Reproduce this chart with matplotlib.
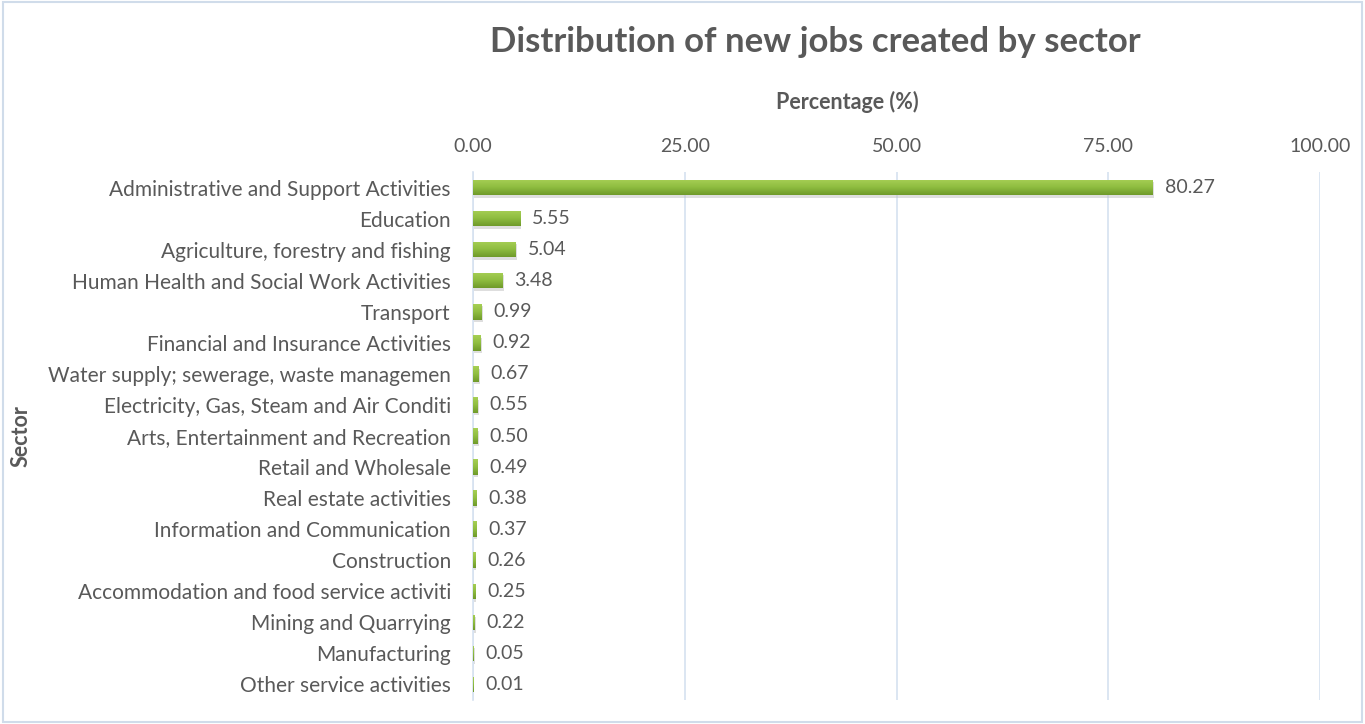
import numpy as np
import matplotlib
matplotlib.use('Agg')
from matplotlib import pyplot as plt
from matplotlib.patches import Rectangle

sectors = [
    'Administrative and Support Activities',
    'Education',
    'Agriculture, forestry and fishing',
    'Human Health and Social Work Activities',
    'Transport',
    'Financial and Insurance Activities',
    'Water supply; sewerage, waste managemen',
    'Electricity, Gas, Steam and Air Conditi',
    'Arts, Entertainment and Recreation',
    'Retail and Wholesale',
    'Real estate activities',
    'Information and Communication',
    'Construction',
    'Accommodation and food service activiti',
    'Mining and Quarrying',
    'Manufacturing',
    'Other service activities',
]
share = [80.27, 5.55, 5.04, 3.48, 0.99, 0.92, 0.67, 0.55, 0.50,
         0.49, 0.38, 0.37, 0.26, 0.25, 0.22, 0.05, 0.01]
x_ticks = [0, 25, 50, 75, 100]

plt.rcParams['font.family'] = ['Lato', 'DejaVu Sans']
text_col = '#595959'
grid_col = '#D6E2F0'

fig = plt.figure(figsize=(13.65, 7.24), dpi=100)
ax = fig.add_axes([473 / 1365, 1 - 700 / 724, (1320 - 473) / 1365, (700 - 172) / 724])

y = np.arange(len(sectors))
bars = ax.barh(y, share, height=0.5, color='#86B33A', zorder=3)

# vertical shading on each bar: light on top, darker underneath
shade = np.linspace(0, 1, 64).reshape(-1, 1)
cmap = matplotlib.colors.LinearSegmentedColormap.from_list(
    'bar', ['#A6CF55', '#8FBD40', '#6F9A2A'])
for b in bars:
    x0, y0 = b.get_x(), b.get_y()
    w, h = b.get_width(), b.get_height()
    # soft drop shadow
    ax.add_patch(Rectangle((x0 + 0.15, y0 + 0.08), w, h, color='#BFBFBF',
                           alpha=0.5, zorder=2, lw=0))
    im = ax.imshow(shade, cmap=cmap, aspect='auto', zorder=4,
                   extent=(x0, x0 + w, y0 + h, y0))
    im.set_clip_path(b)

for yi, v in zip(y, share):
    ax.text(v + 1.4, yi, f'{v:.2f}', va='center', ha='left',
            fontsize=14, color=text_col, zorder=5)

ax.set_xlim(0, 100)
ax.set_ylim(len(sectors) - 0.5, -0.5)
ax.set_xticks(x_ticks)
ax.set_xticklabels([f'{t:.2f}' for t in x_ticks])
ax.xaxis.tick_top()
ax.set_yticks(y)
ax.set_yticklabels(sectors)
ax.tick_params(axis='both', length=0, colors=text_col)
ax.tick_params(axis='x', labelsize=14, pad=12)
ax.tick_params(axis='y', labelsize=15, pad=16)
ax.grid(axis='x', color=grid_col, lw=1.2, zorder=0)
for side in ['top', 'right', 'bottom']:
    ax.spines[side].set_visible(False)
ax.spines['left'].set_color(grid_col)
ax.spines['left'].set_linewidth(1.2)

fig.text(847 / 1365, 1 - 102 / 724, 'Percentage (%)', ha='center', va='center',
         fontsize=15.5, fontweight='bold', color=text_col)
fig.text(21 / 1365, 1 - 436 / 724, 'Sector', rotation=90, ha='center',
         va='center', fontsize=15.5, fontweight='bold', color=text_col)
fig.text(815 / 1365, 1 - 42 / 724, 'Distribution of new jobs created by sector',
         ha='center', va='center', fontsize=25, fontweight='bold', color=text_col)

# chart frame
fig.patches.append(Rectangle((0.002, 0.003), 0.996, 0.994, transform=fig.transFigure,
                             fill=False, edgecolor='#D0DCEA', lw=1.5))

fig.savefig('out.png', dpi=100)
